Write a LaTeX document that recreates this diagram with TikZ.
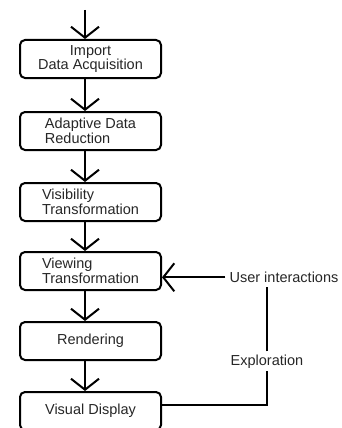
\documentclass[tikz,border=0pt]{standalone}
\usepackage{fontspec}
\setmainfont{Liberation Sans}
\usetikzlibrary{arrows.meta}
\begin{document}
\begin{tikzpicture}[x=1pt,y=-1pt,
  stage/.style={draw, line width=2pt, rounded corners=5pt,
    minimum width=141pt, minimum height=38pt, inner sep=0pt,
    text=black!85, font=\fontsize{14.5}{14.5}\selectfont},
  lbl/.style={inner sep=4pt, text=black!85, font=\fontsize{14.5}{14.5}\selectfont},
  wire/.style={line width=2pt},
  arr/.style={wire, -{Straight Barb[length=11pt,width=28pt]}}]
\useasboundingbox (0,0) rectangle (341,428);
\clip (0,0) rectangle (341,428);

% pipeline stages
\node[stage, align=center] (b1) at (90.5,59)  {Import\\Data Acquisition};
\node[stage, align=left]   (b2) at (90.5,131) {Adaptive Data\\Reduction};
\node[stage, align=left]   (b3) at (90.5,202) {Visibility\\Transformation};
\node[stage, align=left]   (b4) at (90.5,271) {Viewing\\Transformation};
\node[stage]               (b5) at (90.5,341) {Rendering};
\node[stage]               (b6) at (90.5,411) {Visual Display};

% feedback labels
\node[lbl, anchor=base] (ui) at (284,282.5) {User interactions};
\node[lbl, anchor=base, inner sep=3pt] (ex) at (267,365) {Exploration};

% downward flow
\coordinate (src) at (85,10);
\draw[arr] (src) -- (src |- b1.north);
\draw[arr] ([xshift=-5.5pt]b1.south) -- ([xshift=-5.5pt]b2.north);
\draw[arr] ([xshift=-5.5pt]b2.south) -- ([xshift=-5.5pt]b3.north);
\draw[arr] ([xshift=-5.5pt]b3.south) -- ([xshift=-5.5pt]b4.north);
\draw[arr] ([xshift=-5.5pt]b4.south) -- ([xshift=-5.5pt]b5.north);
\draw[arr] ([xshift=-5.5pt]b5.south) -- ([xshift=-5.5pt]b6.north);

% feedback loop
\coordinate (corner) at (267,405);
\draw[wire] (b6.east |- corner) -- (corner) -- (ex.south);
\draw[wire] (ex.north) -- (ex.north |- ui.south);
\draw[arr] (ui.west) -- (ui.west -| b4.east);
\end{tikzpicture}
\end{document}
